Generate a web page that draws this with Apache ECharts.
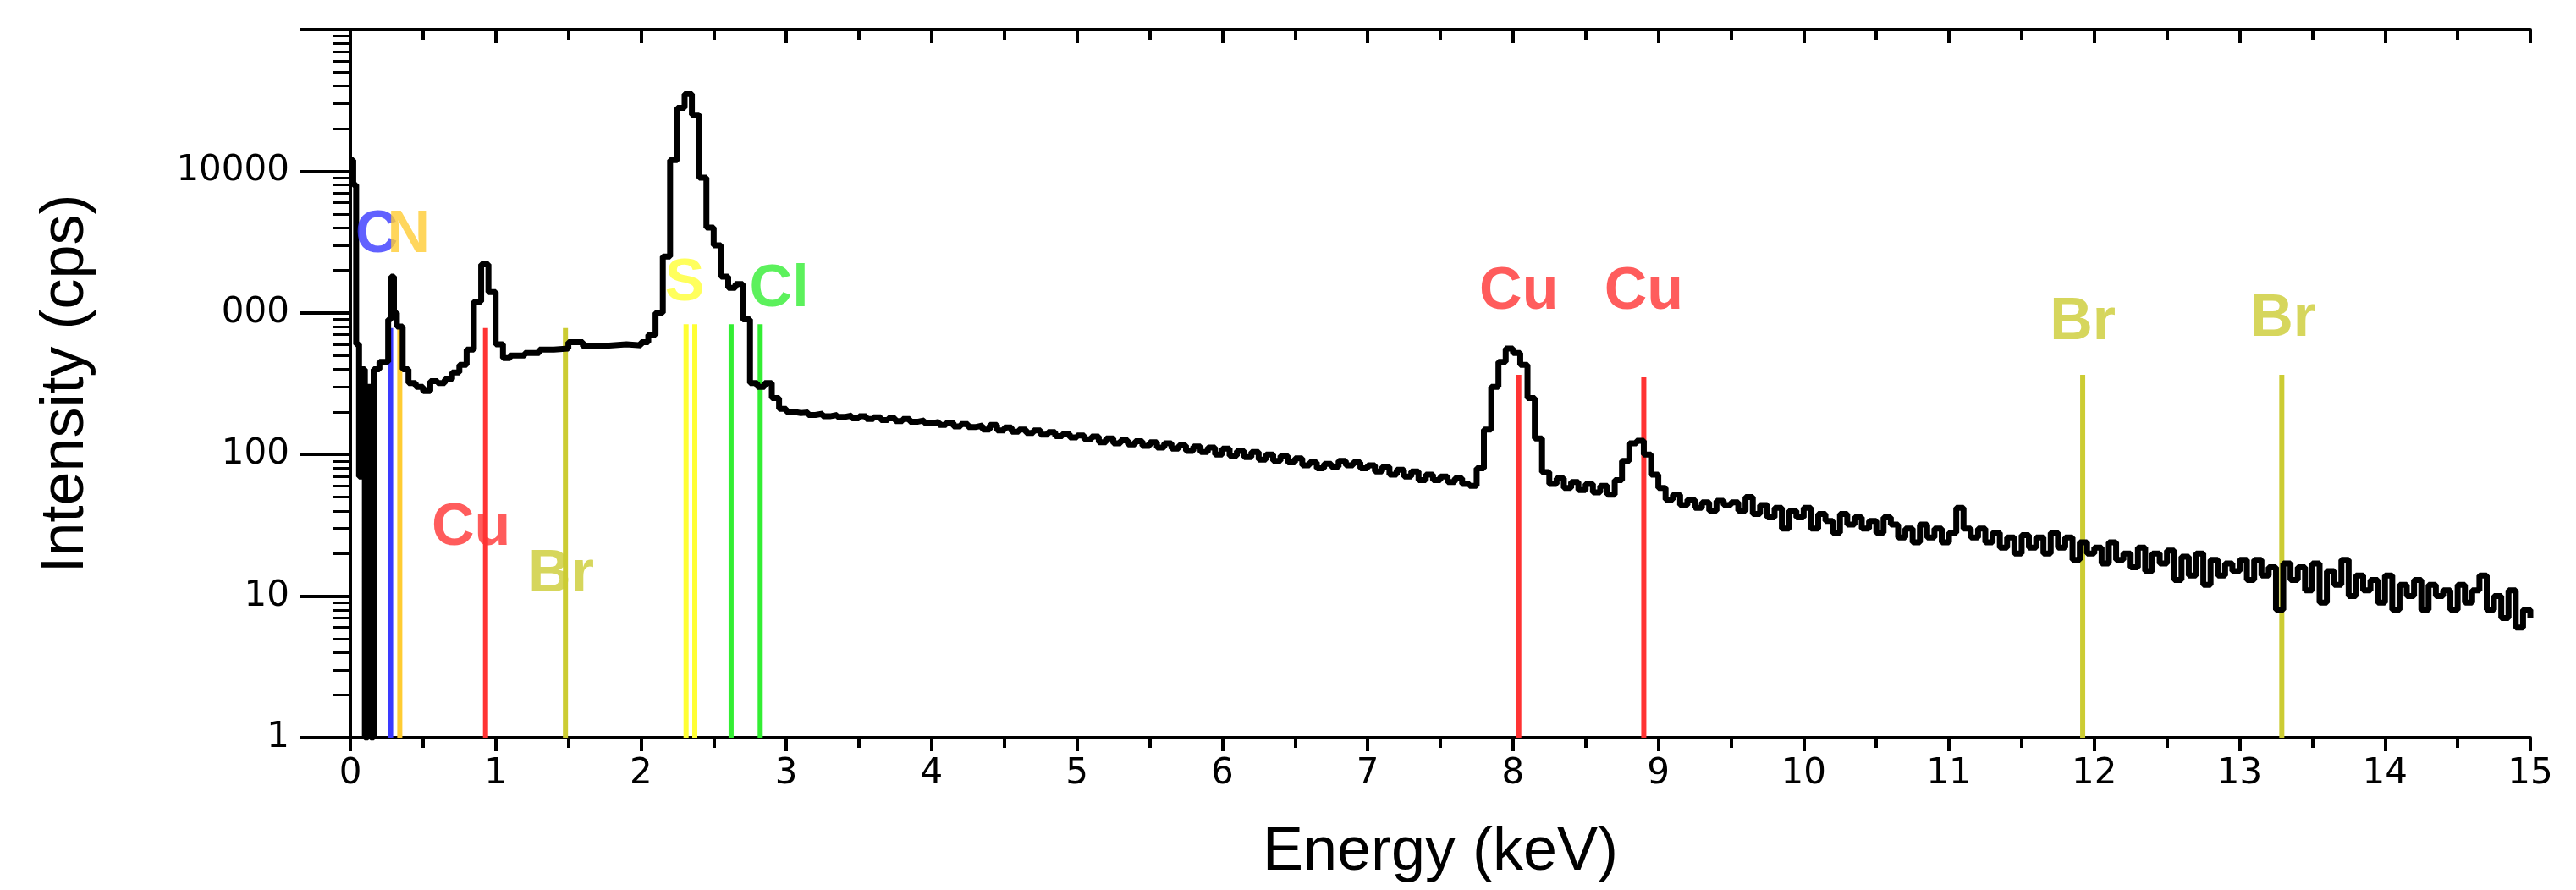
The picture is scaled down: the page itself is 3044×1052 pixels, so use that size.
<!DOCTYPE html>
<html><head><meta charset="utf-8">
<script src="https://cdn.jsdelivr.net/npm/echarts@6/dist/echarts.min.js"></script>
<style>html,body{margin:0;padding:0;background:#fff}#c{width:3044px;height:1052px}</style>
</head><body><div id="c"></div>
<script>
// spectrum as [energy keV, intensity cps]
const spectrum = [
[0,12000],[0.02,8000],[0.04,600],[0.06,70],[0.08,400],[0.1,1],[0.12,300],[0.14,1],[0.16,400],[0.2,450],
[0.24,450],[0.26,900],[0.28,1800],[0.3,1000],[0.32,800],[0.36,400],[0.4,320],[0.45,300],[0.5,280],[0.55,330],
[0.6,320],[0.65,340],[0.7,380],[0.75,430],[0.8,550],[0.85,1200],[0.9,2200],[0.95,1400],[1.0,600],[1.05,480],
[1.1,500],[1.2,520],[1.3,550],[1.4,560],[1.5,620],[1.6,580],[1.7,590],[1.8,600],[1.9,590],[2.0,620],
[2.05,700],[2.1,1000],[2.15,2500],[2.2,12000],[2.25,28000],[2.3,35000],[2.35,25000],[2.4,9000],[2.45,4000],[2.5,3000],
[2.55,1800],[2.6,1500],[2.65,1600],[2.7,900],[2.75,320],[2.8,300],[2.85,320],[2.9,250],[2.95,210],
[3.0,200],[3.05,196],[3.1,198],[3.15,190],[3.2,194],[3.25,186],[3.3,190],[3.35,184],[3.4,188],[3.45,180],
[3.5,186],[3.55,178],[3.6,183],[3.65,175],[3.7,180],[3.75,172],[3.8,178],[3.85,170],[3.9,174],[3.95,166],
[4.0,170],[4.05,162],[4.1,168],[4.15,158],[4.2,164],[4.25,156],[4.3,160],[4.35,150],[4.4,162],[4.45,148],
[4.5,155],[4.55,145],[4.6,150],[4.65,142],[4.7,148],[4.75,138],[4.8,144],[4.85,135],[4.9,140],[4.95,132],
[5.0,136],[5.05,128],[5.1,134],[5.15,122],[5.2,130],[5.25,120],[5.3,126],[5.35,118],[5.4,124],[5.45,115],
[5.5,122],[5.55,112],[5.6,120],[5.65,110],[5.7,116],[5.75,106],[5.8,114],[5.85,104],[5.9,112],[5.95,100],
[6.0,110],[6.05,98],[6.1,106],[6.15,96],[6.2,104],[6.25,92],[6.3,100],[6.35,90],[6.4,98],[6.45,88],
[6.5,94],[6.55,84],[6.6,88],[6.65,80],[6.7,86],[6.75,82],[6.8,90],[6.85,84],[6.9,88],[6.95,80],
[7.0,84],[7.05,76],[7.1,82],[7.15,72],[7.2,78],[7.25,70],[7.3,76],[7.35,66],[7.4,72],[7.45,66],
[7.5,70],[7.55,64],[7.6,68],[7.65,62],[7.7,60],[7.75,80],[7.8,150],[7.85,300],[7.9,450],[7.95,560],
[8.0,520],[8.05,430],[8.1,250],[8.15,130],[8.2,75],[8.25,62],[8.3,68],[8.35,58],[8.4,64],[8.45,56],
[8.5,62],[8.55,54],[8.6,60],[8.65,52],[8.7,66],[8.75,90],[8.8,120],[8.85,125],[8.9,100],[8.95,72],
[9.0,58],[9.05,48],[9.1,52],[9.15,44],[9.2,48],[9.25,42],[9.3,46],[9.35,40],[9.4,47],[9.45,44],
[9.5,46],[9.55,40],[9.6,50],[9.65,38],[9.7,44],[9.75,36],[9.8,42],[9.85,30],[9.9,40],[9.95,36],
[10.0,42],[10.05,30],[10.1,38],[10.15,34],[10.2,28],[10.25,38],[10.3,32],[10.35,36],[10.4,30],[10.45,34],
[10.5,28],[10.55,36],[10.6,32],[10.65,26],[10.7,30],[10.75,24],[10.8,32],[10.85,26],[10.9,30],[10.95,24],
[11.0,28],[11.05,42],[11.1,30],[11.15,26],[11.2,30],[11.25,24],[11.3,28],[11.35,22],[11.4,26],[11.45,20],
[11.5,27],[11.55,22],[11.6,26],[11.65,20],[11.7,28],[11.75,22],[11.8,26],[11.85,18],[11.9,24],[11.95,20],
[12.0,22],[12.05,17],[12.1,24],[12.15,18],[12.2,20],[12.25,16],[12.3,22],[12.35,15],[12.4,20],[12.45,17],
[12.5,21],[12.55,13],[12.6,19],[12.65,14],[12.7,20],[12.75,12],[12.8,18],[12.85,14],[12.9,17],[12.95,15],
[13.0,18],[13.05,13],[13.1,18],[13.15,14],[13.2,16],[13.25,8],[13.3,17],[13.35,13],[13.4,16],[13.45,11],
[13.5,17],[13.55,9],[13.6,15],[13.65,12],[13.7,18],[13.75,10],[13.8,14],[13.85,11],[13.9,13],[13.95,9],
[14.0,14],[14.05,8],[14.1,12],[14.15,10],[14.2,13],[14.25,8],[14.3,12],[14.35,10],[14.4,11],[14.45,8],
[14.5,12],[14.55,9],[14.6,11],[14.65,14],[14.7,8],[14.75,10],[14.8,7],[14.85,11],[14.9,6],[14.95,8],[15.0,7]
];
const lineNames = ['C','N','Cu','Br','S','S','Cl','Cl','Cu','Cu','Br','Br'];
const lineEnergy = [0.277,0.34,0.93,1.48,2.31,2.37,2.62,2.82,8.04,8.9,11.92,13.29];
const lineTop = [780,780,780,780,830,830,830,830,365,350,365,365];
const lineColor = ['#3a3aff','#ffcc33','#ff3333','#cccc33','#ffff33','#ffff33','#33ee33','#33ee33','#ff3333','#ff3333','#cccc33','#cccc33'];
const labelText = ['C','N','Cu','Br','S','Cl','Cu','Cu','Br','Br'];
const labelX = [0.18,0.4,0.83,1.45,2.3,2.95,8.04,8.9,11.92,13.3];
const labelY = [3500,3500,30,14,1600,1450,1400,1400,850,900];
const labelColor = ['#3a3aff','#ffcc33','#ff3333','#cccc33','#ffff33','#33ee33','#ff3333','#ff3333','#cccc33','#cccc33'];

const chart = echarts.init(document.getElementById('c'));
const series = [];
lineEnergy.forEach((e,i)=>{
  series.push({type:'line',symbol:'none',silent:true,z:1,
    lineStyle:{color:lineColor[i],width:6},data:[[e,1],[e,lineTop[i]]]});
});
series.push({type:'line',step:'end',symbol:'none',z:3,lineStyle:{color:'#000',width:7},data:spectrum});
series.push({type:'scatter',symbolSize:0,z:5,silent:true,
  data:labelText.map((t,i)=>({value:[labelX[i],labelY[i]],
    label:{show:true,position:'inside',formatter:t,color:labelColor[i],fontSize:70,fontWeight:'bold',fontFamily:'Liberation Sans'}}))});
const tk = {color:'#000',width:4};
chart.setOption({
  animation:false,
  grid:{left:414,right:54,top:35,bottom:180},
  xAxis:[
    {type:'value',min:0,max:15,interval:1,position:'bottom',name:'Energy (keV)',nameLocation:'middle',nameGap:100,
      nameTextStyle:{fontSize:72,fontFamily:'Liberation Sans',color:'#000'},
      axisLine:{lineStyle:tk},splitLine:{show:false},
      axisTick:{inside:false,length:16,lineStyle:tk},
      minorTick:{show:true,splitNumber:2,length:12,lineStyle:tk},
      axisLabel:{fontSize:42,fontFamily:'DejaVu Sans',color:'#000',margin:22}},
    {type:'value',min:0,max:15,interval:1,position:'top',
      axisLine:{lineStyle:tk},splitLine:{show:false},
      axisTick:{inside:true,length:16,lineStyle:tk},
      minorTick:{show:true,splitNumber:2,length:12,lineStyle:tk},
      axisLabel:{show:false}}
  ],
  yAxis:[
    {type:'log',min:1,max:100000,logBase:10,position:'left',name:'Intensity (cps)',nameLocation:'middle',nameGap:300,
      nameTextStyle:{fontSize:72,fontFamily:'Liberation Sans',color:'#000'},
      axisLine:{lineStyle:tk},splitLine:{show:false},
      axisTick:{inside:false,length:60,lineStyle:tk},
      minorTick:{show:true,splitNumber:9,length:20,lineStyle:{color:'#000',width:3}},
      axisLabel:{fontSize:42,fontFamily:'DejaVu Sans',color:'#000',margin:72,
        formatter:v=>v===1000?'000':(v>=100000?'':String(v))}},
    {type:'log',min:1,max:100000,logBase:10,position:'right',
      axisLine:{lineStyle:tk},splitLine:{show:false},
      axisTick:{inside:true,length:36,lineStyle:tk},
      minorTick:{show:true,splitNumber:9,length:16,lineStyle:{color:'#000',width:3}},
      axisLabel:{show:false}}
  ],
  series
});
</script></body></html>
